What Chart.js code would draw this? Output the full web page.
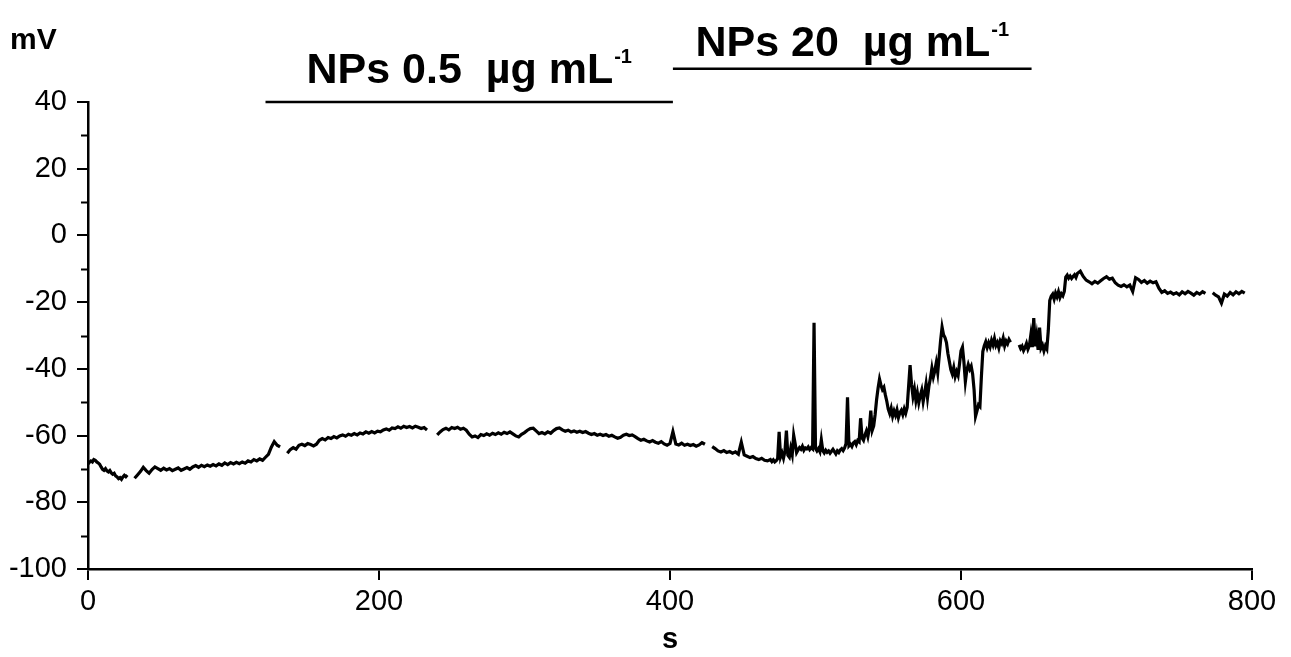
<!DOCTYPE html>
<html>
<head>
<meta charset="utf-8">
<script src="https://cdn.jsdelivr.net/npm/chart.js@4/dist/chart.umd.min.js"></script>
<style>
  html, body { margin: 0; padding: 0; background: #fff; }
  #wrap { width: 1291px; height: 657px; position: relative; }
</style>
</head>
<body>
<div id="wrap"><canvas id="trace"></canvas></div>
<script>
'use strict';

// DATA
// membrane potential (mV), read off the recording; each piece is sampled
// from its start time (s) with a fixed step (s)
const mv0to27 = [-68.5, -68.0, -67.6, -67.9, -67.2, -67.4, -67.9, -68.2, -68.6, -69.4,
  -70.1, -70.4, -69.9, -70.6, -70.9, -70.5, -71.2, -71.6, -71.3, -72.1,
  -72.4, -72.9, -72.6, -73.1, -72.4, -71.9, -72.3, -71.8];

const mv32to132 = [-72.8, -71.8, -70.8, -69.5, -70.5, -71.3, -70.2, -69.4, -69.9, -70.4,
  -69.8, -70.3, -69.9, -70.5, -70.1, -69.7, -70.4, -70.0, -69.6, -70.1,
  -69.4, -69.0, -69.5, -68.9, -69.3, -68.8, -69.2, -68.7, -69.1, -68.5,
  -68.9, -68.2, -68.7, -68.1, -68.5, -68.0, -68.4, -67.9, -68.3, -67.6,
  -67.9, -67.2, -67.6, -67.0, -67.4, -66.5, -65.6, -63.5, -61.8, -62.9, -63.4];

const mv137to233 = [-65.3, -64.2, -63.6, -64.1, -62.9, -62.6, -63.0, -62.4, -62.7, -63.1,
  -62.6, -61.4, -60.9, -61.3, -60.6, -60.9, -60.3, -60.7, -60.1, -59.8,
  -60.2, -59.6, -59.9, -59.4, -59.8, -59.2, -59.5, -58.9, -59.3, -58.8,
  -59.2, -58.7, -58.9, -58.3, -58.0, -58.4, -57.7, -57.9, -57.4, -57.8,
  -57.2, -57.6, -57.3, -57.7, -57.2, -57.5, -57.9, -57.6, -58.3];

const mv240to424 = [-59.8, -58.9, -58.2, -57.8, -58.3, -57.6, -57.9, -57.5, -58.1, -57.8,
  -58.4, -59.6, -60.4, -60.1, -60.6, -59.7, -60.0, -59.5, -59.9, -59.3,
  -59.7, -59.2, -59.6, -59.0, -59.4, -58.9, -59.5, -60.1, -60.4, -59.6,
  -59.1, -58.4, -57.9, -57.8, -58.6, -59.4, -59.1, -59.5, -58.9, -59.3,
  -58.5, -57.9, -57.7, -58.3, -58.7, -58.4, -58.9, -58.6, -59.0, -58.7,
  -59.1, -58.8, -59.3, -59.7, -59.4, -59.9, -59.6, -60.0, -59.7, -60.2,
  -59.9, -60.4, -60.8, -60.5, -59.9, -59.6, -60.0, -59.8, -60.3, -60.9,
  -61.4, -61.1, -61.6, -61.9, -61.5, -62.0, -62.3, -61.8, -62.5, -62.9,
  -62.4, -58.8, -62.5, -62.8, -62.3, -62.9, -62.6, -63.0, -62.7, -63.2,
  -62.8, -62.1, -62.6];

const mv429to469 = [-63.3, -63.9, -64.6, -64.9, -64.5, -65.1, -64.8, -65.3, -64.9, -65.6,
  -62.0, -65.8, -66.2, -66.6, -66.3, -66.9, -67.2, -66.8, -67.4, -67.6, -67.2];

const mv470to634 = [
  -67.8, -67.3, -67.9, -67.5, -66.9, -58.9, -66.4, -65.2, -66.8, -64.7,
  -58.5, -65.9, -66.5, -63.8, -65.7, -59.9, -62.4, -65.1, -64.3, -63.6,
  -64.1, -63.2, -64.4, -63.7, -64.0, -63.4, -64.2, -63.6, -64.0, -26.2,
  -63.8, -64.6, -63.9, -64.8, -61.3, -64.5, -65.2, -64.4, -65.0, -64.6,
  -65.3, -64.7, -64.1, -64.8, -65.5, -64.6, -65.1, -64.3, -63.9, -64.5,
  -63.7, -62.4, -48.5, -63.1, -62.6, -63.3, -62.2, -61.8, -62.7, -61.5,
  -61.9, -54.8, -60.7, -61.4, -59.8, -58.6, -60.3, -57.9, -52.5, -58.4,
  -57.1, -53.6, -49.2, -45.8, -43.1, -44.9, -46.2, -45.5, -47.8, -49.7,
  -52.1, -53.4, -51.8, -54.2, -52.6, -53.9, -52.3, -54.6, -53.1, -52.4,
  -53.7, -52.0, -53.3, -51.6, -45.2, -38.9, -44.6, -48.3, -46.1, -49.5,
  -47.2, -50.1, -48.0, -46.4, -49.8, -47.3, -44.5, -48.6, -45.1, -42.7,
  -39.8, -42.4, -40.6, -38.2, -41.1, -36.3, -31.4, -27.5, -29.8, -30.6,
  -32.1, -35.4, -37.8, -40.2, -41.5, -39.6, -42.3, -40.8, -42.0, -38.4,
  -34.6, -33.5, -37.9, -43.8, -40.4, -38.7, -40.1, -39.2, -41.6, -46.3,
  -54.2, -52.6, -50.8, -51.3, -42.5, -34.8, -33.1, -31.9, -33.6, -32.2,
  -33.4, -31.5, -32.8, -30.9, -33.0, -32.1, -33.7, -31.6, -32.4, -30.8,
  -33.1, -31.7, -32.5, -31.2, -32.0];

const mv640to679 = [
  -32.8, -33.9, -33.2, -34.5, -33.6, -32.4, -34.1, -33.0, -29.8, -33.5,
  -24.8, -33.2, -30.1, -34.3, -27.6, -33.8, -32.9, -34.6, -33.1, -34.0,
  -28.5, -19.5, -18.2, -17.6, -19.1, -17.3, -18.4, -16.9, -18.6, -17.5,
  -18.1, -16.8, -12.5, -11.9, -12.8, -12.2, -12.9, -12.3, -11.8, -12.6];

const mv680to768 = [-11.4, -10.7, -12.3, -13.4, -13.9, -14.5, -13.8, -14.3, -13.6, -12.9,
  -12.4, -13.1, -12.8, -14.2, -14.9, -15.3, -14.8, -15.4, -14.9, -16.8,
  -12.7, -13.2, -14.1, -13.5, -14.3, -13.7, -14.2, -13.9, -15.8, -17.1,
  -16.6, -17.4, -17.0, -17.6, -17.2, -17.8, -16.9, -17.5, -16.8, -17.3,
  -17.9, -17.1, -17.6, -16.9, -17.4];

const mv773to795 = [-17.2, -17.9, -18.4, -20.3, -17.6, -18.2, -17.1, -17.8, -16.9, -17.5,
  -16.8, -17.3];

// continuous stretches of the recording; a gap is left between them
const runs = [
  [{ start: 0, step: 1, values: mv0to27 }],
  [{ start: 32, step: 2, values: mv32to132 }],
  [{ start: 137, step: 2, values: mv137to233 }],
  [{ start: 240, step: 2, values: mv240to424 }],
  [{ start: 429, step: 2, values: mv429to469 }, { start: 470, step: 1, values: mv470to634 }],
  [{ start: 640, step: 1, values: mv640to679 }, { start: 680, step: 2, values: mv680to768 }],
  [{ start: 773, step: 2, values: mv773to795 }],
];

// treatment periods (s) and their labels
const doseLabels = ['NPs 0.5  \u00b5g mL', 'NPs 20  \u00b5g mL'];
const doseFrom = [122, 402];
const doseTo = [402, 648.5];

// axes
const xTicks = [0, 200, 400, 600, 800];
const yTicks = [40, 20, 0, -20, -40, -60, -80, -100];
const yMinorTicks = [30, 10, -10, -30, -50, -70, -90];

// build points
const points = [];
runs.forEach(function (run, r) {
  run.forEach(function (piece) {
    piece.values.forEach(function (v, i) {
      points.push({ x: piece.start + i * piece.step, y: v });
    });
  });
  if (r < runs.length - 1) {
    const last = points[points.length - 1];
    points.push({ x: last.x + 0.5, y: null });
  }
});

const FONT = "'Liberation Sans', Arial, sans-serif";

// draws minor ticks, "mV" and the treatment bars
const extras = {
  id: 'extras',
  afterDraw: function (chart) {
    const ctx = chart.ctx;
    const xs = chart.scales.x;
    const ys = chart.scales.y;
    const left = chart.chartArea.left;
    ctx.save();
    ctx.strokeStyle = '#000';
    ctx.fillStyle = '#000';

    // minor y ticks
    ctx.lineWidth = 2;
    yMinorTicks.forEach(function (v) {
      const py = Math.round(ys.getPixelForValue(v)) + 0.5;
      ctx.beginPath();
      ctx.moveTo(left - 7, py);
      ctx.lineTo(left, py);
      ctx.stroke();
    });

    // unit
    ctx.font = 'bold 30px ' + FONT;
    ctx.textAlign = 'left';
    ctx.textBaseline = 'alphabetic';
    ctx.fillText('mV', 10, 49);

    // treatment bars, first at the top of the axis, second above it
    const barY = [ys.getPixelForValue(40), ys.getPixelForValue(50)];
    const textGap = [19, 13];
    doseLabels.forEach(function (label, i) {
      const x0 = xs.getPixelForValue(doseFrom[i]);
      const x1 = xs.getPixelForValue(doseTo[i]);
      ctx.lineWidth = 2.5;
      ctx.beginPath();
      ctx.moveTo(x0, barY[i]);
      ctx.lineTo(x1, barY[i]);
      ctx.stroke();

      ctx.font = 'bold 43px ' + FONT;
      const w = ctx.measureText(label).width;
      ctx.font = 'bold 20px ' + FONT;
      const sw = ctx.measureText('-1').width;
      const cx = (x0 + x1) / 2;
      const tx = cx - (w + sw + 1) / 2;
      const by = barY[i] - textGap[i];
      ctx.font = 'bold 43px ' + FONT;
      ctx.fillText(label, tx, by);
      ctx.font = 'bold 20px ' + FONT;
      ctx.fillText('-1', tx + w + 1, by - 20);
    });
    ctx.restore();
  },
};

const ctx = document.getElementById('trace').getContext('2d');

const chart = new Chart(ctx, {
  type: 'line',
  data: {
    datasets: [
      {
        label: 'mV',
        data: points,
        borderColor: '#000',
        backgroundColor: '#000',
        borderWidth: 3.2,
        pointRadius: 0,
        tension: 0,
        spanGaps: false,
      },
    ],
  },
  options: {
    responsive: true,
    maintainAspectRatio: false,
    animation: false,
    layout: { padding: { top: 102, right: 39, left: 0, bottom: 0 } },
    plugins: {
      legend: { display: false },
      tooltip: { enabled: false },
    },
    scales: {
      x: {
        type: 'linear',
        min: 0,
        max: 800,
        afterFit: function (scale) {
          scale.height = 88;
        },
        afterBuildTicks: function (scale) {
          scale.ticks = xTicks.map(function (v) { return { value: v }; });
        },
        border: { display: true, color: '#000', width: 2.5 },
        grid: {
          drawOnChartArea: false,
          drawTicks: true,
          tickLength: 11,
          color: '#000',
          lineWidth: 2,
        },
        ticks: {
          color: '#000',
          padding: 5,
          maxRotation: 0,
          font: { family: FONT, size: 29 },
        },
        title: {
          display: true,
          text: 's',
          color: '#000',
          padding: { top: 0, bottom: 0 },
          font: { family: FONT, size: 29, weight: 'bold' },
        },
      },
      y: {
        min: -100,
        max: 40,
        afterFit: function (scale) {
          scale.width = 88;
        },
        afterBuildTicks: function (scale) {
          scale.ticks = yTicks.map(function (v) { return { value: v }; });
        },
        border: { display: true, color: '#000', width: 2.5 },
        grid: {
          drawOnChartArea: false,
          drawTicks: true,
          tickLength: 11,
          color: '#000',
          lineWidth: 2,
        },
        ticks: {
          color: '#000',
          padding: 10,
          font: { family: FONT, size: 29 },
        },
      },
    },
  },
  plugins: [extras],
});
</script>
</body>
</html>
